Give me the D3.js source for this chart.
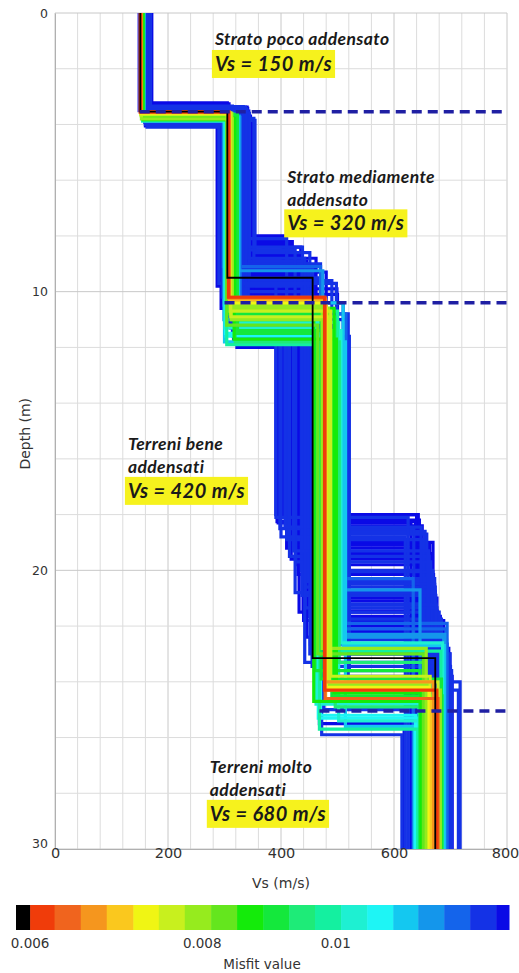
<!DOCTYPE html>
<html>
<head>
<meta charset="utf-8">
<script src="https://cdn.jsdelivr.net/npm/d3@7"></script>
<style>
  body { margin: 0; background: #fff; }
  svg { display: block; }
  text { font-family: "DejaVu Sans", sans-serif; fill: #333; }
  .note { font-family: Lato, "Open Sans", sans-serif; font-style: italic; font-weight: bold; fill: #1a1a1a; }
</style>
</head>
<body>
<svg id="chart" width="519" height="973"></svg>
<script>
var vsTicks = [0, 200, 400, 600, 800];
var depthTicks = [0, 10, 20, 30];

var misfitTicks = [0.006, 0.008, 0.01];
var misfitTickLabels = ["0.006", "0.008", "0.01"];
var misfitBreaks = [0.0060, 0.00625, 0.00653, 0.00682, 0.00713, 0.00744, 0.00777, 0.00812, 0.00848,
    0.00886, 0.00925, 0.00966, 0.01009, 0.01054, 0.01101, 0.01148, 0.01199, 0.01252, 0.01308];
var misfitColors = ["#000000", "#f03c0a", "#f0641e", "#f5961e", "#fac81e", "#f0f514", "#c8f01e",
    "#96eb1e", "#64e61e", "#14eb0a", "#14e83c", "#1eeb78", "#14f0a0", "#1ef0d2", "#1ef5f5",
    "#14c8f0", "#1496eb", "#1464eb", "#1432e6", "#0a0ae6"];
var misfitRange = [0.00586, 0.01336];

// each profile: [misfit, vs1, d1, vs2, d2, vs3, d3, vs4]  (vs in m/s, interface depths in m)
var profiles = [
    [0.0132, 171, 3.22, 305, 8.0, 404, 18.0, 640],
    [0.0131, 169, 3.26, 308, 8.2, 420, 18.2, 645],
    [0.0132, 168, 3.38, 340, 8.4, 435, 18.4, 650],
    [0.0130, 166, 3.85, 354, 8.6, 451, 18.6, 655],
    [0.0131, 165, 3.90, 352, 8.8, 462, 19.0, 669],
    [0.0129, 163, 4.10, 290, 9.7, 391, 18.1, 625],
    [0.0132, 149, 3.50, 287, 9.8, 395, 18.3, 630],
    [0.0130, 160, 4.00, 296, 10.2, 398, 18.5, 635],
    [0.0128, 162, 3.95, 303, 10.8, 400, 18.8, 620],
    [0.0131, 164, 3.42, 310, 11.3, 410, 19.2, 660],
    [0.0129, 158, 3.46, 316, 11.7, 415, 19.5, 662],
    [0.0132, 167, 3.40, 322, 12.0, 391, 18.0, 643],
    [0.0128, 169, 3.45, 335, 9.0, 470, 20.5, 672],
    [0.0131, 170, 3.75, 345, 9.3, 480, 21.0, 676],
    [0.0130, 166, 3.50, 338, 9.6, 490, 21.5, 680],
    [0.0132, 168, 3.60, 342, 9.9, 499, 22.0, 686],
    [0.0129, 165, 3.40, 332, 10.4, 510, 22.5, 693],
    [0.0131, 171, 3.80, 350, 11.0, 516, 23.0, 699],
    [0.0130, 167, 3.55, 342, 11.6, 521, 23.6, 702],
    [0.0128, 164, 3.42, 330, 10.8, 519, 24.0, 717],
    [0.0132, 162, 3.28, 300, 10.0, 440, 21.8, 688],
    [0.0131, 160, 4.05, 294, 10.6, 445, 22.4, 692],
    [0.0129, 161, 3.36, 318, 11.0, 451, 23.0, 699],
    [0.0130, 163, 3.90, 326, 11.4, 436, 20.0, 668],
    [0.0132, 159, 3.92, 294, 9.4, 428, 19.8, 666],
    [0.0128, 166, 3.65, 336, 8.5, 425, 20.8, 672],
    [0.0131, 170, 3.88, 347, 8.9, 445, 19.4, 668],
    [0.0129, 168, 3.78, 352, 9.2, 456, 21.2, 674],
    [0.0130, 164, 3.48, 340, 8.1, 410, 18.9, 652],
    [0.0132, 165, 3.70, 346, 8.3, 418, 19.6, 664],
    [0.0128, 163, 3.45, 334, 9.5, 472, 25.9, 614],
    [0.0131, 162, 3.50, 320, 10.5, 468, 25.5, 618],
    [0.0130, 161, 3.48, 328, 10.2, 476, 25.0, 625],
    [0.0129, 167, 3.60, 344, 9.7, 498, 24.3, 714],
    [0.0132, 169, 3.82, 349, 9.1, 460, 22.8, 697],
    [0.0131, 165, 3.42, 341, 8.7, 432, 21.5, 677],
    [0.0129, 162, 3.38, 337, 9.0, 448, 20.3, 672],
    [0.0130, 166, 3.36, 333, 8.4, 438, 18.7, 658],
    [0.0128, 163, 3.44, 339, 8.8, 442, 23.3, 696],
    [0.0132, 164, 3.52, 343, 9.4, 453, 22.2, 690],
    [0.0131, 161, 3.40, 336, 8.6, 430, 20.15, 670],
    [0.0129, 163, 3.46, 331, 9.2, 444, 20.6, 673],
    [0.0130, 165, 3.58, 339, 8.9, 437, 20.9, 674],
    [0.0132, 162, 3.44, 334, 9.3, 450, 21.1, 675],
    [0.0128, 164, 3.50, 337, 9.1, 443, 21.35, 676],
    [0.0131, 166, 3.62, 341, 9.5, 447, 21.65, 682],
    [0.0130, 163, 3.40, 333, 10.0, 452, 22.65, 694],
    [0.0129, 165, 3.54, 338, 9.8, 455, 23.45, 700],
    [0.0132, 167, 3.68, 344, 10.1, 500, 23.8, 703],
    [0.0131, 160, 3.90, 312, 11.2, 413, 19.1, 663],
    [0.0128, 162, 3.34, 314, 11.5, 422, 19.3, 661],
    [0.0130, 164, 3.44, 319, 11.8, 426, 19.7, 665],
    [0.0130, 163, 3.42, 335, 9.6, 446, 20.05, 669],
    [0.0129, 161, 3.46, 332, 9.0, 441, 20.4, 671],
    [0.0131, 164, 3.52, 336, 9.4, 449, 20.75, 673],
    [0.0128, 162, 3.38, 333, 9.7, 454, 21.25, 675],
    [0.0132, 166, 3.56, 340, 9.9, 439, 21.45, 676],
    [0.0130, 165, 3.48, 337, 10.3, 457, 21.75, 684],
    [0.0129, 160, 3.92, 308, 11.1, 407, 18.45, 648],
    [0.0131, 163, 3.40, 315, 11.6, 393, 18.25, 638],
    [0.0122, 157, 3.62, 298, 9.1, 470, 22.1, 692],
    [0.0117, 158, 3.70, 326, 9.25, 474, 22.4, 688],
    [0.0112, 156, 3.80, 300, 11.8, 514, 25.6, 636],
    [0.0120, 155, 3.75, 328, 11.2, 460, 20.3, 634],
    [0.0115, 157, 3.85, 324, 10.9, 463, 20.7, 646],
    [0.0110, 156, 3.66, 302, 11.5, 466, 25.3, 640],
    [0.0124, 158, 3.72, 327, 10.8, 515, 21.9, 694],
    [0.0118, 155, 3.78, 299, 11.0, 458, 22.3, 690],
    [0.0114, 156, 3.74, 325, 10.4, 510, 22.7, 689],
    [0.0108, 156, 3.68, 303, 11.6, 470, 25.2, 638],
    [0.0103, 155, 3.74, 322, 11.4, 506, 22.6, 686],
    [0.0099, 157, 3.82, 304, 11.9, 468, 25.7, 642],
    [0.0105, 154, 3.64, 321, 11.1, 502, 25.4, 684],
    [0.0097, 156, 3.70, 318, 10.7, 500, 22.9, 683],
    [0.0101, 155, 3.88, 301, 11.3, 462, 24.8, 644],
    [0.0095, 154, 3.66, 316, 10.9, 496, 24.9, 682],
    [0.0090, 155, 3.72, 320, 11.5, 460, 23.6, 646],
    [0.0087, 154, 3.78, 318, 10.6, 494, 24.4, 648],
    [0.0083, 153, 3.62, 304, 11.2, 465, 23.0, 652],
    [0.0088, 156, 3.84, 317, 11.7, 498, 24.2, 655],
    [0.0092, 153, 3.70, 305, 10.8, 471, 23.9, 684],
    [0.0085, 154, 3.76, 315, 11.0, 458, 24.7, 650],
    [0.0093, 155, 3.68, 319, 11.8, 503, 23.3, 656],
    [0.0081, 153, 3.80, 314, 10.5, 473, 22.8, 657],
    [0.0089, 154, 3.64, 323, 11.4, 490, 24.5, 685],
    [0.0079, 153, 3.60, 313, 10.6, 484, 24.1, 660],
    [0.0076, 152, 3.66, 310, 10.7, 488, 23.8, 664],
    [0.0078, 153, 3.62, 312, 11.0, 482, 24.3, 682],
    [0.0075, 152, 3.58, 311, 10.9, 486, 24.0, 678],
    [0.0073, 152, 3.60, 309, 10.4, 480, 24.2, 662],
    [0.0070, 152, 3.58, 309, 10.3, 479, 24.6, 666],
    [0.0067, 151, 3.56, 308, 10.25, 478, 24.0, 670],
    [0.0064, 151, 3.56, 308, 10.2, 478, 24.6, 678],
    [0.0061, 152, 3.55, 307, 10.2, 477, 24.3, 676],
    [0.0059, 151, 3.54, 305, 9.5, 456, 23.15, 673]
];

// interpreted layer boundaries (dashed)
var boundaryDepths = [3.54, 10.4, 25.05];
var boundaryStartVs = [150, 300, 468];

var noteTitles = [["Strato poco addensato"], ["Strato mediamente", "addensato"],
    ["Terreni bene", "addensati"], ["Terreni molto", "addensati"]];
var noteVs = ["Vs = 150 m/s", "Vs = 320 m/s", "Vs = 420 m/s", "Vs = 680 m/s"];
// anchor of each note in data units: [vs, depth of first baseline, depth of Vs baseline]
var noteAnchors = [[283, 1.15, 2.08], [411, 6.1, 7.8], [129, 15.68, 17.4], [274, 27.27, 28.99]];

var x = d3.scaleLinear().domain([0, 800]).range([55, 507]);
var y = d3.scaleLinear().domain([0, 30]).range([13, 849]);
var color = d3.scaleThreshold().domain(misfitBreaks).range(misfitColors);

var svg = d3.select("#chart");

// grid
var grid = svg.append("g");
grid.selectAll("line.gv")
    .data(d3.range(0, 801, 40))
    .enter().append("line")
    .attr("x1", d => x(d)).attr("x2", d => x(d))
    .attr("y1", y(0)).attr("y2", y(30))
    .attr("stroke", d => d % 200 == 0 ? "#c8c8c8" : "#dcdcdc")
    .attr("stroke-width", 1);
grid.selectAll("line.gh")
    .data(d3.range(0, 31, 2))
    .enter().append("line")
    .attr("x1", x(0)).attr("x2", x(800))
    .attr("y1", d => y(d)).attr("y2", d => y(d))
    .attr("stroke", d => d % 10 == 0 ? "#c8c8c8" : "#dcdcdc")
    .attr("stroke-width", 1);

svg.append("clipPath").attr("id", "plotclip")
    .append("rect")
    .attr("x", x(0)).attr("y", y(0))
    .attr("width", x(800) - x(0)).attr("height", y(30) - y(0));

var plot = svg.append("g").attr("clip-path", "url(#plotclip)");

var line = d3.line().x(p => x(p[0])).y(p => y(p[1]));

function steps(p) {
    return [[p[1], 0], [p[1], p[2]], [p[3], p[2]], [p[3], p[4]],
        [p[5], p[4]], [p[5], p[6]], [p[7], p[6]], [p[7], 30]];
}

// worst misfit first, best on top
var ordered = profiles.slice().sort((a, b) => b[0] - a[0]);

plot.selectAll("path.profile")
    .data(ordered)
    .enter().append("path")
    .attr("class", "profile")
    .attr("d", p => line(steps(p)))
    .attr("fill", "none")
    .attr("stroke", p => color(p[0]))
    .attr("stroke-width", p => p[0] < 0.006 ? 1.8 : 3.2)
    .attr("stroke-linejoin", "miter");

plot.selectAll("line.layer")
    .data(boundaryDepths)
    .enter().append("line")
    .attr("x1", (d, i) => x(boundaryStartVs[i])).attr("x2", x(800))
    .attr("y1", d => y(d)).attr("y2", d => y(d))
    .attr("stroke", "#1f1fa3")
    .attr("stroke-width", 3.5)
    .attr("stroke-dasharray", "10,6");

// axes
var yAxis = svg.append("g")
    .attr("transform", "translate(" + x(0) + ",0)")
    .call(d3.axisLeft(y).tickValues(depthTicks).tickSize(0).tickPadding(7));
yAxis.select(".domain").attr("stroke", "#b0b0b0");
yAxis.selectAll("text").style("font-size", "12.5px").attr("fill", "#333");
yAxis.selectAll(".tick").filter(d => d == 30).select("text").attr("y", -6);

var xAxis = svg.append("g")
    .attr("transform", "translate(0," + y(30) + ")")
    .call(d3.axisBottom(x).tickValues(vsTicks).tickSize(0).tickPadding(-1));
xAxis.select(".domain").attr("stroke", "#b0b0b0");
xAxis.selectAll("text").style("font-size", "14.5px").attr("fill", "#333");
xAxis.selectAll(".tick").filter(d => d == 800).select("text").attr("x", -2);

svg.append("text")
    .attr("x", (x(0) + x(800)) / 2).attr("y", 888)
    .attr("text-anchor", "middle")
    .style("font-size", "14px")
    .text("Vs (m/s)");

svg.append("text")
    .attr("transform", "translate(30," + y(15.1) + ") rotate(-90)")
    .attr("text-anchor", "middle")
    .style("font-size", "14px")
    .text("Depth (m)");

// annotations
noteTitles.forEach(function(lines, i) {
    var a = noteAnchors[i];
    var g = svg.append("g");
    var vsText = g.append("text")
        .attr("class", "note")
        .attr("x", x(a[0])).attr("y", y(a[2]))
        .style("font-size", "20px")
        .style("letter-spacing", "0.5px")
        .text(noteVs[i]);
    var w = vsText.node().getComputedTextLength();
    g.insert("rect", "text")
        .attr("x", x(a[0]) - 3).attr("y", y(a[2]) - 21)
        .attr("width", w + 6).attr("height", 28)
        .attr("fill", "#f6f21d");
    lines.forEach(function(t, j) {
        g.append("text")
            .attr("class", "note")
            .attr("x", x(a[0]))
            .attr("y", y(a[1]) + j * 23)
            .style("font-size", "17.5px")
            .style("letter-spacing", "0.4px")
            .text(t);
    });
});

// colorbar
var cb = d3.scaleLog().domain(misfitRange).range([16, 509]);
var cbEdges = [misfitRange[0]].concat(misfitBreaks, [misfitRange[1]]);
svg.append("g").selectAll("rect")
    .data(misfitColors)
    .enter().append("rect")
    .attr("x", (d, i) => cb(cbEdges[i]))
    .attr("width", (d, i) => cb(cbEdges[i + 1]) - cb(cbEdges[i]) + 0.5)
    .attr("y", 905).attr("height", 25)
    .attr("fill", d => d);

svg.append("g").selectAll("text")
    .data(misfitTicks)
    .enter().append("text")
    .attr("x", d => cb(d)).attr("y", 948)
    .attr("text-anchor", "middle")
    .style("font-size", "13.5px")
    .text((d, i) => misfitTickLabels[i]);

svg.append("text")
    .attr("x", 262).attr("y", 969)
    .attr("text-anchor", "middle")
    .style("font-size", "13.5px")
    .text("Misfit value");
</script>
</body>
</html>
